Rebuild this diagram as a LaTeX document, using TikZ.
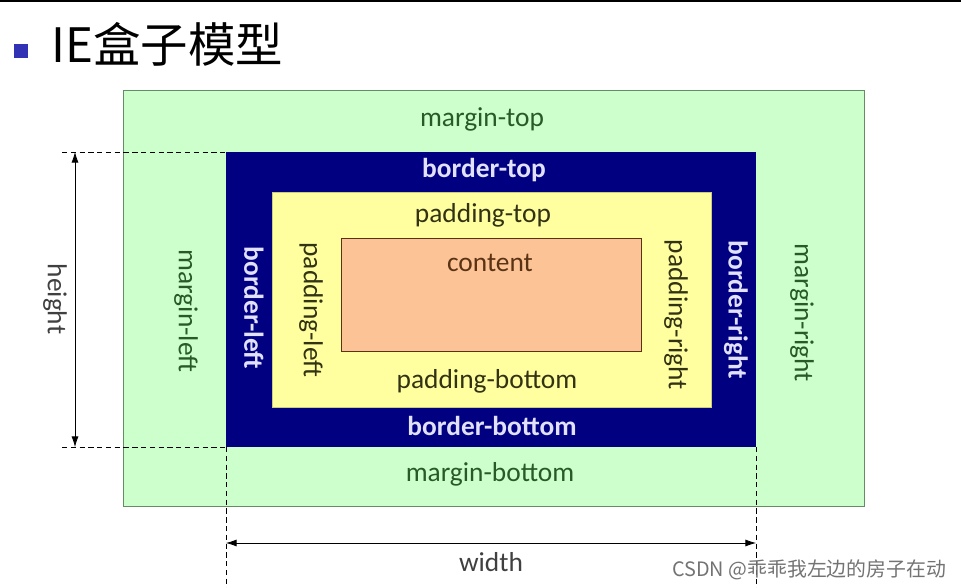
\documentclass[tikz,border=0pt]{standalone}
\usepackage{fontspec}
\setmainfont{Carlito}
\newfontfamily\cjk{Noto Sans CJK SC}
\usetikzlibrary{arrows.meta}
\definecolor{marginfill}{RGB}{204,255,204}
\definecolor{marginline}{RGB}{102,140,102}
\definecolor{margintext}{RGB}{40,90,40}
\definecolor{bordernavy}{RGB}{0,0,128}
\definecolor{bordertext}{RGB}{225,225,255}
\definecolor{paddingfill}{RGB}{255,255,160}
\definecolor{paddingtext}{RGB}{50,50,20}
\definecolor{contentfill}{RGB}{252,196,150}
\definecolor{contenttext}{RGB}{90,50,20}
\definecolor{titleblue}{RGB}{50,50,180}
\tikzset{
  lbl/.style={font=\fontsize{15.6}{17}\selectfont, inner sep=0pt},
  mlbl/.style={lbl, text=margintext},
  blbl/.style={lbl, text=bordertext, font=\fontsize{15.6}{17}\selectfont\bfseries},
  plbl/.style={lbl, text=paddingtext},
  guide/.style={densely dashed, thin},
  dim/.style={{Latex[length=6pt,width=4pt]}-{Latex[length=6pt,width=4pt]}, thin}
}
\begin{document}
\begin{tikzpicture}[x=0.02cm,y=-0.02cm]
  \useasboundingbox (0,0) rectangle (961,588);
  % top rule and title
  \draw[line width=1.5pt] (0,1) -- (961,1);
  \fill[titleblue] (14,44) rectangle (28,58);
  \node[anchor=west, inner sep=0pt, font=\fontsize{27}{30}\selectfont\cjk] (title) at (51,44) {IE盒子模型};

  % the four boxes
  \draw[marginline, fill=marginfill] (123,90) rectangle (864,506);
  \fill[bordernavy] (226,152) rectangle (756,447);
  \draw[paddingfill!80!black, thin, fill=paddingfill] (272,192) rectangle (711,407);
  \draw[contenttext, fill=contentfill] (341,238) rectangle (641,351);

  % labels
  \node[mlbl] (mt) at (482,119) {margin-top};
  \node[mlbl] (mb) at (490,474) {margin-bottom};
  \node[mlbl, rotate=-90] (ml) at (186,311) {margin-left};
  \node[mlbl, rotate=-90] (mr) at (802,313) {margin-right};
  \node[blbl] (bt) at (484,170) {border-top};
  \node[blbl] (bb) at (492,426) {border-bottom};
  \node[blbl, rotate=-90] (bl) at (254,308) {border-left};
  \node[blbl, rotate=-90] (br) at (736,310) {border-right};
  \node[plbl] (pt) at (483,215) {padding-top};
  \node[plbl] (pb) at (487,381) {padding-bottom};
  \node[plbl, rotate=-90] (pl) at (311,310) {padding-left};
  \node[plbl, rotate=-90] (pr) at (676,315) {padding-right};
  \node[lbl, text=contenttext] (ct) at (490,263) {content};

  % height and width
  \coordinate (htop) at (62,152);
  \coordinate (hbot) at (62,447);
  \coordinate (wleft) at (226,588);
  \coordinate (wright) at (756,588);
  \draw[guide] (htop) -- (226,152);
  \draw[guide] (hbot) -- (226,447);
  \draw[guide] (226,447) -- (wleft);
  \draw[guide] (756,447) -- (wright);
  \coordinate (ha) at (75,152);
  \coordinate (hb) at (75,447);
  \coordinate (wa) at (226,543);
  \coordinate (wb) at (756,543);
  \draw[dim] (ha) -- (hb);
  \draw[dim] (wa) -- (wb);
  \node[lbl, rotate=-90, text=black!75] (ht) at (55,299) {height};
  \node[lbl, text=black!75] (wd) at (491,562) {width};

  % watermark
  \node[anchor=west, inner sep=0pt, text=black!55, font=\fontsize{11.3}{13}\selectfont\cjk] (wm) at (672,570) {CSDN @乖乖我左边的房子在动};
\end{tikzpicture}
\end{document}
